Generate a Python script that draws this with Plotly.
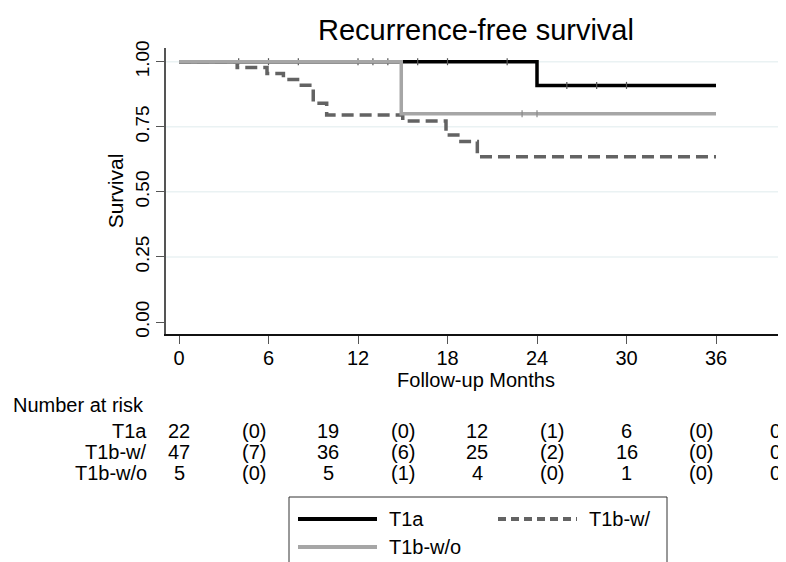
import numpy as np
import plotly.graph_objects as go

# ---------------- data ----------------
groups = ["T1a", "T1b-w/", "T1b-w/o"]

t1a_times = [0, 24, 36]
t1a_surv = [1.0, 0.909, 0.909]
t1a_censor = [4, 6, 8, 12, 13, 14, 16, 18, 22, 26, 28, 30]

t1bw_times = [0, 3.9, 5.9, 7.0, 8.2, 9.0, 9.9, 15.0, 17.9, 18.9, 20.0, 36]
t1bw_surv = [1.0, 0.978, 0.955, 0.932, 0.910, 0.840, 0.795, 0.772, 0.718, 0.693, 0.635, 0.635]
t1bw_censor = []

t1bwo_times = [0, 14.9, 36]
t1bwo_surv = [1.0, 0.80, 0.80]
t1bwo_censor = [23, 24]

risk_times = [0, 10, 20, 30, 40]
interval_mid = [5, 15, 25, 35]
risk_t1a = [22, 19, 12, 6, 0]
events_t1a = [0, 0, 1, 0]
risk_t1bw = [47, 36, 25, 16, 0]
events_t1bw = [7, 6, 2, 0]
risk_t1bwo = [5, 5, 4, 1, 0]
events_t1bwo = [0, 1, 0, 0]

x_ticks = [0, 6, 12, 18, 24, 30, 36]
y_ticks = [0.0, 0.25, 0.5, 0.75, 1.0]

title_text = "Recurrence-free survival"
x_title = "Follow-up Months"
y_title = "Survival"

# ---------------- style ----------------
FONT = "Liberation Sans, Arial, Helvetica, sans-serif"
C_BLACK = "#000000"
C_DASH = "#636363"
C_GRAY = "#a6a6a6"
GRID = "#eaf2f3"

OFF = 8  # page body margin in the browser
W, H = 786 - OFF, 562 - OFF
# plot area in page pixels: x 166..786, y 48..334
ML = 166 - OFF
MR = 0
MT = 48 - OFF
MB = H - (334 - OFF)
PW = W - ML - MR
PH = H - MT - MB


def px_to_paper_x(px):
    # px given in page (reference) pixels
    return (px - OFF - ML) / PW


def px_to_paper_y(py):
    return (H - MB - (py - OFF)) / PH


def step_value(times, surv, t):
    idx = np.searchsorted(np.asarray(times), t, side="right") - 1
    return np.asarray(surv)[idx]


fig = go.Figure()

series = [
    ("T1a", t1a_times, t1a_surv, t1a_censor, C_BLACK, "solid"),
    ("T1b-w/", t1bw_times, t1bw_surv, t1bw_censor, C_DASH, "12px,6px"),
    ("T1b-w/o", t1bwo_times, t1bwo_surv, t1bwo_censor, C_GRAY, "solid"),
]

for name, tt, ss, cc, col, dash in series:
    fig.add_trace(go.Scatter(
        x=tt, y=ss, mode="lines", name=name, line_shape="hv",
        line=dict(color=col, width=3.5, dash=dash), showlegend=False,
        hoverinfo="skip"))
    if cc:
        mcol = "#555555" if col == C_BLACK else "#8a8a8a"
        fig.add_trace(go.Scatter(
            x=cc, y=step_value(tt, ss, np.asarray(cc)), mode="markers",
            marker=dict(symbol="line-ns", size=5,
                        line=dict(color=mcol, width=1.2)),
            showlegend=False, hoverinfo="skip"))

# gridlines (not at 0)
shapes = []
for yv in y_ticks[1:]:
    shapes.append(dict(type="line", xref="paper", x0=0, x1=1, yref="y",
                       y0=yv, y1=yv, line=dict(color=GRID, width=1.5),
                       layer="below"))

# ---------------- number at risk table ----------------
ann = []
tfs = 20
ann.append(dict(text="Number at risk", xref="paper", yref="paper",
                x=px_to_paper_x(11), y=px_to_paper_y(405), xanchor="left",
                yanchor="middle", showarrow=False,
                font=dict(size=tfs, color="black", family=FONT)))
rows = [("T1a", risk_t1a, events_t1a, 431),
        ("T1b-w/", risk_t1bw, events_t1bw, 452),
        ("T1b-w/o", risk_t1bwo, events_t1bwo, 473)]
for lab, risk, ev, py in rows:
    yp = px_to_paper_y(py)
    ann.append(dict(text=lab, xref="paper", yref="paper",
                    x=px_to_paper_x(149), y=yp, xanchor="right",
                    yanchor="middle", showarrow=False,
                    font=dict(size=tfs, color="black", family=FONT)))
    for t, n in zip(risk_times, risk):
        ann.append(dict(text=str(n), xref="x", yref="paper", x=t, y=yp,
                        xanchor="center", yanchor="middle", showarrow=False,
                        font=dict(size=tfs, color="black", family=FONT)))
    for t, e in zip(interval_mid, ev):
        ann.append(dict(text="(%d)" % e, xref="x", yref="paper", x=t, y=yp,
                        xanchor="center", yanchor="middle", showarrow=False,
                        font=dict(size=tfs, color="black", family=FONT)))

# ---------------- legend (drawn) ----------------
shapes.append(dict(type="rect", xref="paper", yref="paper",
                   x0=px_to_paper_x(289), x1=px_to_paper_x(667),
                   y0=px_to_paper_y(497), y1=px_to_paper_y(600),
                   line=dict(color="#333333", width=1), fillcolor="white"))
leg_items = [
    (groups[0], C_BLACK, "solid", 298, 377, 519),
    (groups[1], C_DASH, "dash", 498, 577, 519),
    (groups[2], C_GRAY, "solid", 298, 377, 547),
]
for lab, col, dash, x0, x1, py in leg_items:
    shapes.append(dict(type="line", xref="paper", yref="paper",
                       x0=px_to_paper_x(x0), x1=px_to_paper_x(x1),
                       y0=px_to_paper_y(py), y1=px_to_paper_y(py),
                       line=dict(color=col, width=4,
                                 dash="8px,5px" if dash == "dash" else "solid")))
    ann.append(dict(text=lab, xref="paper", yref="paper",
                    x=px_to_paper_x(x1 + 10), y=px_to_paper_y(py),
                    xanchor="left", yanchor="middle", showarrow=False,
                    font=dict(size=tfs, color="black", family=FONT)))

px_per_month = (716 - 179) / 36.0
x0 = -(179 - 166) / px_per_month
x1 = (786 - 179) / px_per_month
py_per_unit = (322 - 61.7)
y_lo = -(334 - 322) / py_per_unit
y_hi = 1 + (61.7 - 48) / py_per_unit

fig.update_layout(
    width=W, height=H,
    margin=dict(l=ML, r=MR, t=MT, b=MB, pad=0),
    paper_bgcolor="white", plot_bgcolor="white",
    font=dict(family=FONT, color="black"),
    title=dict(text=title_text, x=0.5, xref="paper", xanchor="center",
               y=1 - (30 - OFF) / H, yref="container", yanchor="middle",
               font=dict(size=29, color="black", family=FONT)),
    xaxis=dict(range=[x0, x1], tickvals=x_ticks,
               ticktext=[str(v) for v in x_ticks],
               showgrid=False, zeroline=False, showline=True,
               linecolor="#111111", linewidth=1.5,
               ticks="outside", ticklen=8, tickwidth=1.3, tickcolor="#555555",
               ticklabelstandoff=-3,
               tickfont=dict(size=20, color="black", family=FONT),
               title=dict(text=x_title, standoff=2,
                          font=dict(size=20, color="black", family=FONT))),
    yaxis=dict(range=[y_lo, y_hi], tickvals=y_ticks,
               ticktext=["%.2f" % v for v in y_ticks],
               showgrid=False, zeroline=False, showline=True,
               linecolor="#555555", linewidth=1.5,
               ticks="outside", ticklen=8, tickwidth=1.3, tickcolor="#555555",
               tickangle=-90,
               tickfont=dict(size=19, color="black", family=FONT),
               title=dict(text=y_title, standoff=2,
                          font=dict(size=21, color="black", family=FONT))),
    shapes=shapes, annotations=ann, showlegend=False,
)

fig.write_html("out.html")
